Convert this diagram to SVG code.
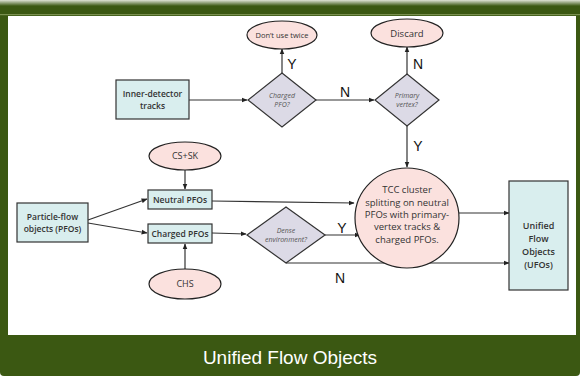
<svg xmlns="http://www.w3.org/2000/svg" width="580" height="376" viewBox="0 0 580 376">
<defs>
<linearGradient id="topg" x1="0" y1="0" x2="0" y2="1">
<stop offset="0" stop-color="#dfe3d6"/>
<stop offset="1" stop-color="#3b5812"/>
</linearGradient>
<marker id="ah" viewBox="0 0 10 10" refX="9" refY="5" markerWidth="5" markerHeight="5" orient="auto">
<path d="M0,1 L10,5 L0,9 z" fill="#222"/>
</marker>
<style>
.box{fill:#d9eeee;stroke:#333;stroke-width:1.2}
.ell{fill:#fbe1de;stroke:#222;stroke-width:1.2}
.dia{fill:#dcdae6;stroke:#333;stroke-width:1.2}
.t{font-family:"Open Sans","Noto Sans",sans-serif;font-size:8.5px;font-weight:600;fill:#333;text-anchor:middle}
.tn{font-family:"Open Sans","Noto Sans",sans-serif;font-size:9.5px;fill:#333;text-anchor:middle}
.ti{font-family:"Open Sans","Noto Sans",sans-serif;font-size:7px;font-style:italic;fill:#555;text-anchor:middle}
.lb{font-family:"Liberation Sans",Arial,sans-serif;font-size:14px;fill:#111;text-anchor:middle}
.cn{stroke:#333;stroke-width:1.2;fill:none;marker-end:url(#ah)}
</style>
</defs>
<rect x="0" y="0" width="580" height="376" rx="4" fill="#3b5812"/>
<rect x="0" y="0" width="580" height="6" fill="url(#topg)"/>
<rect x="0" y="14" width="580" height="1.2" fill="#7a9050"/>
<rect x="8" y="16" width="568" height="319" fill="#ffffff"/>
<text x="290" y="364" font-family="Liberation Sans,Arial,sans-serif" font-size="19" fill="#ffffff" text-anchor="middle">Unified Flow Objects</text>

<g id="connectors">
<line class="cn" x1="189" y1="100" x2="247" y2="100"/>
<line class="cn" x1="316" y1="100" x2="374" y2="100"/>
<line class="cn" x1="282" y1="73" x2="282" y2="49"/>
<line class="cn" x1="407" y1="74" x2="407" y2="47"/>
<line class="cn" x1="407" y1="126" x2="407" y2="167"/>
<line class="cn" x1="88" y1="220" x2="147" y2="199"/>
<line class="cn" x1="88" y1="223" x2="147" y2="233"/>
<line class="cn" x1="185" y1="170" x2="185" y2="189"/>
<line class="cn" x1="185" y1="269" x2="185" y2="244"/>
<line class="cn" x1="212" y1="233" x2="246" y2="234"/>
<line class="cn" x1="212" y1="201" x2="354" y2="203"/>
<line class="cn" x1="325" y1="235" x2="360" y2="235"/>
<line class="cn" x1="459" y1="213" x2="509" y2="213"/>
<polyline class="cn" points="286,263 509,263"/>
<text class="lb" x="292" y="69">Y</text>
<text class="lb" x="345" y="97">N</text>
<text class="lb" x="418" y="69">N</text>
<text class="lb" x="418" y="151">Y</text>
<text class="lb" x="342" y="233">Y</text>
<text class="lb" x="340" y="283">N</text>
</g>

<g id="dont-use-twice"><ellipse class="ell" cx="282" cy="35" rx="35" ry="14"/><text class="tn" x="282" y="38" style="font-size:7.5px">Don’t use twice</text></g>
<g id="discard"><ellipse class="ell" cx="407" cy="33" rx="36" ry="14"/><text class="tn" x="407" y="36.5" style="font-size:9.5px">Discard</text></g>
<g id="inner-detector"><rect class="box" x="116" y="80" width="73" height="39"/><text class="t" x="152.5" y="97">Inner-detector</text><text class="t" x="152.5" y="109">tracks</text></g>
<g id="charged-pfo-q"><polygon class="dia" points="282,73 316,100 282,127 248,100"/><text class="ti" x="282" y="98">Charged</text><text class="ti" x="282" y="107">PFO?</text></g>
<g id="primary-vertex-q"><polygon class="dia" points="407,74 439,100 407,126 375,100"/><text class="ti" x="407" y="98">Primary</text><text class="ti" x="407" y="107">vertex?</text></g>
<g id="cs-sk"><ellipse class="ell" cx="185" cy="156" rx="36" ry="14"/><text class="tn" x="185" y="159" style="font-size:9px">CS+SK</text></g>
<g id="particle-flow"><rect class="box" x="17" y="203" width="71" height="39"/><text class="t" x="52.5" y="220">Particle-flow</text><text class="t" x="52.5" y="232">objects (PFOs)</text></g>
<g id="neutral-pfos"><rect class="box" x="148" y="190" width="64" height="19"/><text class="t" x="180" y="202.5">Neutral PFOs</text></g>
<g id="charged-pfos"><rect class="box" x="148" y="224" width="64" height="19"/><text class="t" x="180" y="236.5">Charged PFOs</text></g>
<g id="chs"><ellipse class="ell" cx="185" cy="284" rx="36" ry="15"/><text class="tn" x="185" y="287" style="font-size:9px">CHS</text></g>
<g id="dense-env-q"><polygon class="dia" points="286,207 325,235 286,263 247,235"/><text class="ti" x="286" y="233">Dense</text><text class="ti" x="286" y="242">environment?</text></g>
<g id="tcc"><ellipse class="ell" cx="407" cy="218" rx="52" ry="50"/>
<text class="tn" x="407" y="193">TCC cluster</text>
<text class="tn" x="407" y="206">splitting on neutral</text>
<text class="tn" x="407" y="218">PFOs with primary-</text>
<text class="tn" x="407" y="230">vertex tracks &amp;</text>
<text class="tn" x="407" y="243">charged PFOs.</text></g>
<g id="ufo"><rect class="box" x="509" y="181" width="59" height="109"/>
<text class="t" x="538.5" y="229" style="font-size:9px">Unified</text>
<text class="t" x="538.5" y="242" style="font-size:9px">Flow</text>
<text class="t" x="538.5" y="255" style="font-size:9px">Objects</text>
<text class="t" x="538.5" y="268" style="font-size:9px">(UFOs)</text></g>
</svg>
